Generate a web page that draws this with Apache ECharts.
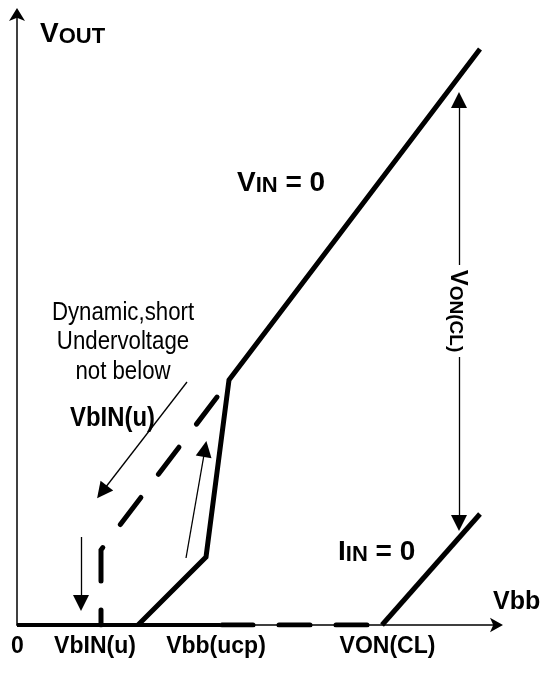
<!DOCTYPE html>
<html lang="en">
<head>
    <meta charset="UTF-8">
    <title>Vout vs Vbb</title>
    <script src="https://cdn.jsdelivr.net/npm/echarts@6/dist/echarts.min.js"></script>
    <style>
        html,body{
            margin: 0;
            height: 100%;
            background: #fff;
        }
    </style>
</head>
<body>
<!--容器-->
<div id="main" style="width: 542px;height: 673px"></div>
<script>
    // 数据 (x: right of the Vout axis, y: above the Vbb axis)
    var tickValues = [0.5, 78, 199, 370.5];
    var tickLabels = ['0', 'VbIN(u)', 'Vbb(ucp)', 'VON(CL)'];

    var baseSolid = [[0, 0], [203, 0]];
    var baseDashed = [[205, 0], [352, 0]];
    var voutCurve = [[121, 0], [189, 68], [212, 245], [463, 576]];
    var underDashed = [[84, 0], [84, 75], [213, 245]];
    var clampLine = [[365, 0], [463, 111]];

    var fallArrow = [[170, 243], [85, 133]];
    var riseArrow = [[169, 67], [188, 176]];
    var dropArrow = [[64, 88], [64, 22]];
    var clampUp = [[442, 360], [442, 525]];
    var clampDown = [[442, 268], [442, 102]];

    var FONT = '"Liberation Sans", Arial, sans-serif';

    function thick(data, width, dash, offset) {
        return {
            type: 'line',
            data: data,
            symbol: 'none',
            silent: true,
            lineStyle: {
                color: '#000',
                width: width,
                type: dash || 'solid',
                dashOffset: offset || 0,
                cap: dash ? 'round' : 'butt',
                join: 'miter'
            },
            z: 3
        };
    }

    function arrow(coords) {
        return {
            type: 'lines',
            coordinateSystem: 'cartesian2d',
            data: [{coords: coords}],
            symbol: ['none', 'triangle'],
            symbolSize: [11, 16],
            symbolOffset: [0, 8],
            silent: true,
            lineStyle: {color: '#000', width: 1.3, opacity: 1},
            z: 4
        };
    }

    // 小型大写字母 (V + smaller caps)
    function caps(big, small) {
        return {
            a: {fontSize: big, fontWeight: 'bold', fontFamily: FONT, fill: '#000', verticalAlign: 'bottom'},
            b: {fontSize: small, fontWeight: 'bold', fontFamily: FONT, fill: '#000', verticalAlign: 'bottom'}
        };
    }

    var myChart = echarts.init(document.getElementById('main'));

    var option = {
        animation: false,
        grid: {left: 17, top: 14, right: 45, bottom: 48},
        xAxis: {
            type: 'value',
            min: 0,
            max: 480,
            splitLine: {show: false},
            axisTick: {show: false},
            axisLine: {
                onZero: false,
                symbol: ['none', 'arrow'],
                symbolSize: [11, 13],
                symbolOffset: [0, 6],
                lineStyle: {color: '#000', width: 1.5}
            },
            axisLabel: {
                customValues: tickValues,
                margin: 10,
                color: '#000',
                fontFamily: FONT,
                fontWeight: 'bold',
                fontSize: 23,
                formatter: function (v) {
                    var i = tickValues.indexOf(v);
                    return i < 0 ? '' : tickLabels[i];
                }
            }
        },
        yAxis: {
            type: 'value',
            min: 0,
            max: 611,
            splitLine: {show: false},
            axisTick: {show: false},
            axisLabel: {show: false},
            axisLine: {
                onZero: false,
                symbol: ['none', 'arrow'],
                symbolSize: [12, 13],
                symbolOffset: [0, 6],
                lineStyle: {color: '#000', width: 1.5}
            }
        },
        graphic: [
            {
                type: 'text', left: 40, top: 20, z: 100,
                style: {text: '{a|V}{b|OUT}', rich: caps(28, 22)}
            },
            {
                type: 'text', left: 237, top: 169, z: 100,
                style: {text: '{a|V}{b|IN}{a| = 0}', rich: caps(28, 22)}
            },
            {
                type: 'text', left: 338, top: 538, z: 100,
                style: {text: '{a|I}{b|IN}{a| = 0}', rich: caps(28, 22)}
            },
            {
                type: 'text', x: 123, y: 298, scaleX: 0.89, z: 100,
                style: {
                    text: 'Dynamic,short\nUndervoltage\nnot below',
                    align: 'center',
                    font: '25px ' + FONT,
                    lineHeight: 29.5,
                    fill: '#000'
                }
            },
            {
                type: 'text', x: 70, y: 405, scaleX: 0.885, z: 100,
                style: {
                    text: 'VbIN(u)',
                    font: 'bold 27px ' + FONT,
                    fill: '#000'
                }
            },
            {
                type: 'text', x: 458, y: 311, rotation: -Math.PI / 2, z: 100,
                style: {
                    text: '{a|V}{b|ON(CL)}',
                    align: 'center',
                    verticalAlign: 'middle',
                    rich: caps(24, 19)
                }
            },
            {
                type: 'text', left: 493, top: 590, z: 100,
                style: {
                    text: 'Vbb',
                    font: 'bold 25px ' + FONT,
                    fill: '#000'
                }
            }
        ],
        series: [
            thick(baseSolid, 4),
            thick(baseDashed, 5, [31, 26]),
            thick(voutCurve, 5),
            thick(underDashed, 5, [34, 29], 19),
            thick(clampLine, 5),
            arrow(fallArrow),
            arrow(riseArrow),
            arrow(dropArrow),
            arrow(clampUp),
            arrow(clampDown)
        ]
    };

    myChart.setOption(option);
</script>
</body>
</html>
